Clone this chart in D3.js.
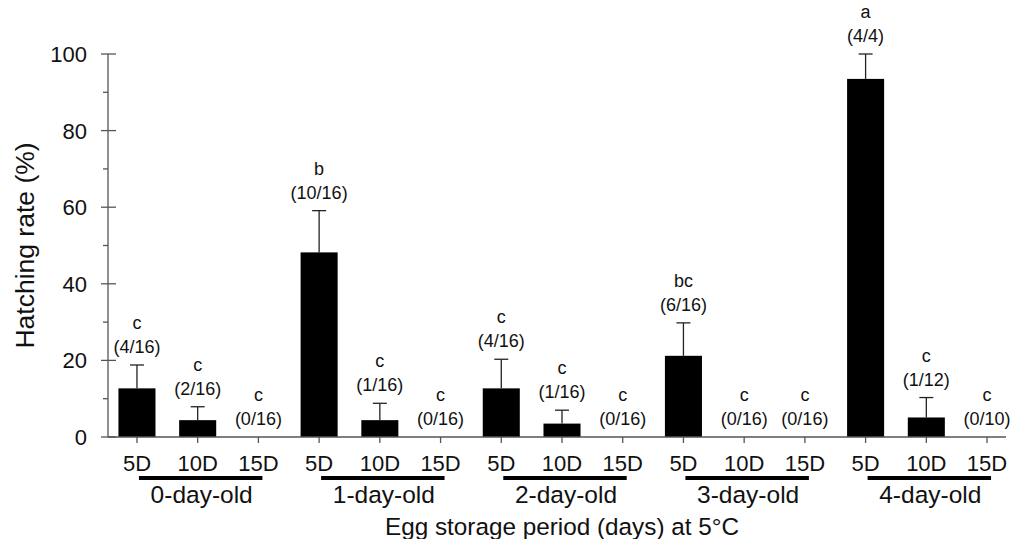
<!DOCTYPE html>
<html>
<head>
<meta charset="utf-8">
<script src="https://cdn.jsdelivr.net/npm/d3@7"></script>
<style>
  html, body { margin: 0; padding: 0; background: #fff; }
  svg { display: block; font-family: "Liberation Sans", Arial, sans-serif; }
</style>
</head>
<body>
<svg id="chart" width="1010" height="539"></svg>
<script>
// ---- data ----
const groups = ["0-day-old", "1-day-old", "2-day-old", "3-day-old", "4-day-old"];
const periods = ["5D", "10D", "15D"];
const means = [12.7, 4.4, 0, 48.2, 4.4, 0, 12.7, 3.5, 0, 21.2, 0, 0, 93.5, 5.1, 0];
const errors = [6.1, 3.5, 0, 10.9, 4.4, 0, 7.6, 3.5, 0, 8.6, 0, 0, 6.5, 5.2, 0];
const letters = ["c", "c", "c", "b", "c", "c", "c", "c", "c", "bc", "c", "c", "a", "c", "c"];
const counts = ["(4/16)", "(2/16)", "(0/16)", "(10/16)", "(1/16)", "(0/16)", "(4/16)", "(1/16)", "(0/16)",
                "(6/16)", "(0/16)", "(0/16)", "(4/4)", "(1/12)", "(0/10)"];
const yTicks = [0, 20, 40, 60, 80, 100];
const yMinorTicks = [10, 30, 50, 70, 90];

// ---- build rows ----
const rows = [];
groups.forEach((g, gi) => periods.forEach((p, pi) => {
  const i = gi * 3 + pi;
  rows.push({ key: g + "|" + p, group: g, period: p, mean: means[i], err: errors[i],
              letter: letters[i], count: counts[i] });
}));

const svg = d3.select("#chart");
const axisColor = "#555";
const axisX = 108;

const x = d3.scaleBand()
  .domain(rows.map(d => d.key))
  .range([106.6, 1017.4])
  .paddingInner(0.39)
  .paddingOuter(0.195);
const cx = k => x(k) + x.bandwidth() / 2;

const y = d3.scaleLinear().domain([0, 100]).range([437, 54]);

// ---- y axis ----
const yAxis = svg.append("g");
yAxis.append("line")
  .attr("x1", axisX).attr("x2", axisX)
  .attr("y1", y(0)).attr("y2", y(100))
  .attr("stroke", axisColor).attr("stroke-width", 1.3);
yAxis.selectAll("line.major").data(yTicks).enter().append("line")
  .attr("class", "major")
  .attr("x1", axisX - 7).attr("x2", axisX + 8)
  .attr("y1", d => y(d)).attr("y2", d => y(d))
  .attr("stroke", axisColor).attr("stroke-width", 1.3);
yAxis.selectAll("line.minor").data(yMinorTicks).enter().append("line")
  .attr("class", "minor")
  .attr("x1", axisX - 5).attr("x2", axisX)
  .attr("y1", d => y(d)).attr("y2", d => y(d))
  .attr("stroke", axisColor).attr("stroke-width", 1.3);
yAxis.selectAll("text").data(yTicks).enter().append("text")
  .attr("x", 87).attr("y", d => y(d))
  .attr("dy", "0.36em")
  .attr("text-anchor", "end")
  .attr("font-size", 22)
  .attr("fill", "#111")
  .text(d => d);

svg.append("text")
  .attr("transform", `translate(34,${(y(0) + y(100)) / 2}) rotate(-90)`)
  .attr("text-anchor", "middle")
  .attr("font-size", 26.5)
  .attr("fill", "#111")
  .text("Hatching rate (%)");

// ---- bars ----
svg.append("g").selectAll("rect").data(rows).enter().append("rect")
  .attr("x", d => x(d.key))
  .attr("width", x.bandwidth())
  .attr("y", d => y(d.mean))
  .attr("height", d => y(0) - y(d.mean))
  .attr("fill", "#000");

// ---- error bars ----
const eb = svg.append("g").selectAll("g").data(rows.filter(d => d.err > 0)).enter().append("g");
eb.append("line")
  .attr("x1", d => cx(d.key)).attr("x2", d => cx(d.key))
  .attr("y1", d => y(d.mean)).attr("y2", d => y(d.mean + d.err))
  .attr("stroke", "#222").attr("stroke-width", 1.3);
eb.append("line")
  .attr("x1", d => cx(d.key) - 7).attr("x2", d => cx(d.key) + 7)
  .attr("y1", d => y(d.mean + d.err)).attr("y2", d => y(d.mean + d.err))
  .attr("stroke", "#222").attr("stroke-width", 1.3);

// ---- annotations ----
const ann = svg.append("g").selectAll("g").data(rows).enter().append("g");
ann.append("text")
  .attr("x", d => cx(d.key))
  .attr("y", d => y(d.mean + d.err) - 12)
  .attr("text-anchor", "middle")
  .attr("font-size", 18)
  .attr("fill", "#111")
  .text(d => d.count);
ann.append("text")
  .attr("x", d => cx(d.key))
  .attr("y", d => y(d.mean + d.err) - 36)
  .attr("text-anchor", "middle")
  .attr("font-size", 18)
  .attr("fill", "#111")
  .text(d => d.letter);

// ---- x axis ----
const xAxis = svg.append("g");
xAxis.append("line")
  .attr("x1", axisX).attr("x2", 1006)
  .attr("y1", y(0)).attr("y2", y(0))
  .attr("stroke", axisColor).attr("stroke-width", 1.3);
xAxis.selectAll("line.tick").data(rows).enter().append("line")
  .attr("class", "tick")
  .attr("x1", d => cx(d.key)).attr("x2", d => cx(d.key))
  .attr("y1", y(0)).attr("y2", y(0) + 6)
  .attr("stroke", axisColor).attr("stroke-width", 1.3);
xAxis.selectAll("text").data(rows).enter().append("text")
  .attr("x", d => cx(d.key))
  .attr("y", 471)
  .attr("text-anchor", "middle")
  .attr("font-size", 22)
  .attr("fill", "#111")
  .text(d => d.period);

// ---- group underlines and labels ----
const gg = svg.append("g").selectAll("g").data(groups).enter().append("g");
gg.append("line")
  .attr("x1", g => cx(g + "|" + periods[0]) + 2)
  .attr("x2", g => cx(g + "|" + periods[2]) + 4)
  .attr("y1", 478).attr("y2", 478)
  .attr("stroke", "#000").attr("stroke-width", 4);
gg.append("text")
  .attr("x", g => (cx(g + "|" + periods[0]) + cx(g + "|" + periods[2])) / 2 + 4)
  .attr("y", 503)
  .attr("text-anchor", "middle")
  .attr("font-size", 24.5)
  .attr("fill", "#111")
  .text(g => g);

svg.append("text")
  .attr("x", 562)
  .attr("y", 535)
  .attr("text-anchor", "middle")
  .attr("font-size", 24.3)
  .attr("fill", "#111")
  .text("Egg storage period (days) at 5°C");
</script>
</body>
</html>
